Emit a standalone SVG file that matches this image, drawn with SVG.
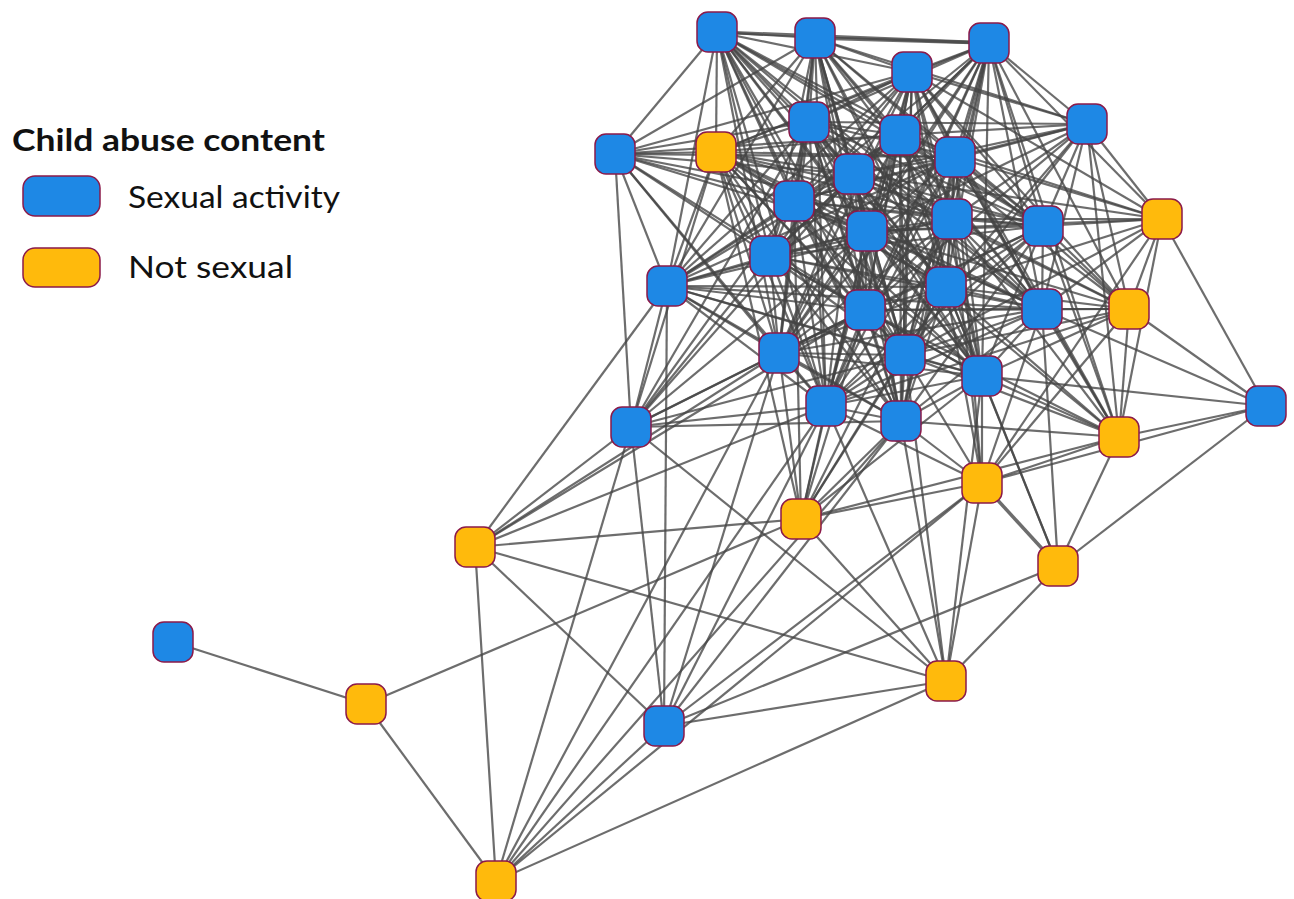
<svg xmlns="http://www.w3.org/2000/svg" width="1294" height="899" viewBox="0 0 1294 899">
<style>
.b{fill:#1E88E5;stroke:#8B1A4A;stroke-width:1.5}
.o{fill:#FFBA0C;stroke:#8B1A4A;stroke-width:1.5}
#edges path{fill:none;stroke:#444;stroke-opacity:0.78;stroke-width:2.2}
#edges path.t{stroke-width:3.5}
.lt{font-family:Lato,"Open Sans","Liberation Sans",sans-serif;fill:#111}
</style>
<rect width="1294" height="899" fill="#fff"/>
<g id="legend">
<text class="lt" x="12" y="151" font-size="30" font-weight="700" textLength="313" lengthAdjust="spacingAndGlyphs">Child abuse content</text>
<rect class="b" x="23" y="176" width="77" height="40" rx="12"/>
<text class="lt" x="128" y="208" font-size="31" textLength="212" lengthAdjust="spacingAndGlyphs">Sexual activity</text>
<rect class="o" x="23" y="248" width="77" height="39" rx="12"/>
<text class="lt" x="128" y="278" font-size="31" textLength="165" lengthAdjust="spacingAndGlyphs">Not sexual</text>
</g>
<g id="edges">
<path d="M717 32 815 38"/><path class="t" d="M717 32 989 43"/><path d="M717 32 912 72"/><path d="M717 32 809 122"/><path d="M717 32 900 135"/><path d="M717 32 716 152"/><path d="M717 32 955 157"/><path d="M717 32 854 174"/><path d="M717 32 794 201"/><path d="M717 32 952 219"/><path d="M717 32 867 231"/><path d="M717 32 770 256"/><path d="M717 32 946 287"/><path d="M717 32 865 310"/><path d="M717 32 779 353"/><path d="M717 32 905 355"/><path d="M717 32 982 376"/><path d="M717 32 826 406"/><path d="M717 32 901 421"/>
<path class="t" d="M815 38 989 43"/><path d="M815 38 912 72"/><path d="M815 38 809 122"/><path d="M815 38 900 135"/><path d="M815 38 716 152"/><path d="M815 38 955 157"/><path d="M815 38 854 174"/><path d="M815 38 794 201"/><path d="M815 38 952 219"/><path d="M815 38 867 231"/><path d="M815 38 770 256"/><path d="M815 38 946 287"/><path d="M815 38 865 310"/><path d="M815 38 779 353"/><path d="M815 38 905 355"/><path d="M815 38 982 376"/><path d="M815 38 826 406"/><path d="M815 38 901 421"/>
<path d="M989 43 912 72"/><path d="M989 43 809 122"/><path d="M989 43 900 135"/><path d="M989 43 716 152"/><path d="M989 43 955 157"/><path d="M989 43 854 174"/><path d="M989 43 794 201"/><path d="M989 43 952 219"/><path d="M989 43 867 231"/><path d="M989 43 770 256"/><path d="M989 43 946 287"/><path d="M989 43 865 310"/><path d="M989 43 779 353"/><path d="M989 43 905 355"/><path d="M989 43 982 376"/><path d="M989 43 826 406"/><path d="M989 43 901 421"/>
<path d="M912 72 809 122"/><path d="M912 72 900 135"/><path d="M912 72 716 152"/><path d="M912 72 955 157"/><path d="M912 72 854 174"/><path d="M912 72 794 201"/><path d="M912 72 952 219"/><path d="M912 72 867 231"/><path d="M912 72 770 256"/><path d="M912 72 946 287"/><path d="M912 72 865 310"/><path d="M912 72 779 353"/><path d="M912 72 905 355"/><path d="M912 72 982 376"/><path d="M912 72 826 406"/><path d="M912 72 901 421"/>
<path d="M809 122 900 135"/><path d="M809 122 716 152"/><path d="M809 122 955 157"/><path d="M809 122 854 174"/><path d="M809 122 794 201"/><path d="M809 122 952 219"/><path d="M809 122 867 231"/><path d="M809 122 770 256"/><path d="M809 122 946 287"/><path d="M809 122 865 310"/><path d="M809 122 779 353"/><path d="M809 122 905 355"/><path d="M809 122 982 376"/><path d="M809 122 826 406"/><path d="M809 122 901 421"/>
<path d="M900 135 716 152"/><path d="M900 135 955 157"/><path d="M900 135 854 174"/><path d="M900 135 794 201"/><path d="M900 135 952 219"/><path d="M900 135 867 231"/><path d="M900 135 770 256"/><path d="M900 135 946 287"/><path d="M900 135 865 310"/><path d="M900 135 779 353"/><path d="M900 135 905 355"/><path d="M900 135 982 376"/><path d="M900 135 826 406"/><path d="M900 135 901 421"/>
<path d="M716 152 955 157"/><path d="M716 152 854 174"/><path d="M716 152 794 201"/><path d="M716 152 952 219"/><path d="M716 152 867 231"/><path d="M716 152 770 256"/><path d="M716 152 946 287"/><path d="M716 152 865 310"/><path d="M716 152 779 353"/><path d="M716 152 905 355"/><path d="M716 152 982 376"/><path d="M716 152 826 406"/><path d="M716 152 901 421"/>
<path d="M955 157 854 174"/><path d="M955 157 794 201"/><path d="M955 157 952 219"/><path d="M955 157 867 231"/><path d="M955 157 770 256"/><path d="M955 157 946 287"/><path d="M955 157 865 310"/><path d="M955 157 779 353"/><path d="M955 157 905 355"/><path d="M955 157 982 376"/><path d="M955 157 826 406"/><path d="M955 157 901 421"/>
<path d="M854 174 794 201"/><path d="M854 174 952 219"/><path d="M854 174 867 231"/><path d="M854 174 770 256"/><path d="M854 174 946 287"/><path d="M854 174 865 310"/><path d="M854 174 779 353"/><path d="M854 174 905 355"/><path d="M854 174 982 376"/><path d="M854 174 826 406"/><path d="M854 174 901 421"/>
<path d="M794 201 952 219"/><path d="M794 201 867 231"/><path d="M794 201 770 256"/><path d="M794 201 946 287"/><path d="M794 201 865 310"/><path d="M794 201 779 353"/><path d="M794 201 905 355"/><path d="M794 201 982 376"/><path d="M794 201 826 406"/><path d="M794 201 901 421"/>
<path d="M952 219 867 231"/><path d="M952 219 770 256"/><path d="M952 219 946 287"/><path d="M952 219 865 310"/><path d="M952 219 779 353"/><path d="M952 219 905 355"/><path d="M952 219 982 376"/><path d="M952 219 826 406"/><path d="M952 219 901 421"/>
<path d="M867 231 770 256"/><path d="M867 231 946 287"/><path d="M867 231 865 310"/><path d="M867 231 779 353"/><path d="M867 231 905 355"/><path d="M867 231 982 376"/><path d="M867 231 826 406"/><path d="M867 231 901 421"/>
<path d="M770 256 946 287"/><path d="M770 256 865 310"/><path d="M770 256 779 353"/><path d="M770 256 905 355"/><path d="M770 256 982 376"/><path d="M770 256 826 406"/><path d="M770 256 901 421"/>
<path d="M946 287 865 310"/><path d="M946 287 779 353"/><path d="M946 287 905 355"/><path d="M946 287 982 376"/><path d="M946 287 826 406"/><path d="M946 287 901 421"/>
<path d="M865 310 779 353"/><path d="M865 310 905 355"/><path d="M865 310 982 376"/><path d="M865 310 826 406"/><path d="M865 310 901 421"/>
<path d="M779 353 905 355"/><path d="M779 353 982 376"/><path d="M779 353 826 406"/><path d="M779 353 901 421"/>
<path d="M905 355 982 376"/><path d="M905 355 826 406"/><path d="M905 355 901 421"/>
<path d="M982 376 826 406"/><path d="M982 376 901 421"/>
<path d="M826 406 901 421"/>
<path d="M717 32 615 154"/><path d="M717 32 667 286"/><path d="M717 32 1043 226"/><path d="M717 32 1042 309"/>
<path d="M815 38 1087 124"/><path d="M815 38 615 154"/><path d="M815 38 1043 226"/><path d="M815 38 667 286"/><path d="M815 38 1042 309"/>
<path d="M989 43 1087 124"/><path d="M989 43 1043 226"/><path d="M989 43 1162 219"/><path d="M989 43 1042 309"/><path d="M989 43 1129 309"/><path d="M989 43 1119 437"/>
<path d="M912 72 1087 124"/><path d="M912 72 615 154"/><path d="M912 72 1043 226"/><path d="M912 72 1162 219"/><path d="M912 72 667 286"/><path d="M912 72 1042 309"/><path d="M912 72 1129 309"/><path d="M912 72 1119 437"/>
<path d="M1087 124 809 122"/><path d="M1087 124 900 135"/><path d="M1087 124 955 157"/><path d="M1087 124 854 174"/><path d="M1087 124 952 219"/><path d="M1087 124 1043 226"/><path d="M1087 124 1162 219"/><path d="M1087 124 867 231"/><path d="M1087 124 946 287"/><path d="M1087 124 865 310"/><path d="M1087 124 1042 309"/><path d="M1087 124 1129 309"/><path d="M1087 124 905 355"/><path d="M1087 124 1119 437"/><path d="M1087 124 794 201"/>
<path d="M809 122 615 154"/><path d="M809 122 1043 226"/><path d="M809 122 667 286"/><path d="M809 122 1042 309"/><path d="M809 122 631 427"/>
<path d="M900 135 615 154"/><path d="M900 135 1043 226"/><path d="M900 135 1162 219"/><path d="M900 135 667 286"/><path d="M900 135 1042 309"/><path d="M900 135 1129 309"/>
<path d="M615 154 716 152"/><path d="M615 154 955 157"/><path d="M615 154 854 174"/><path d="M615 154 794 201"/><path d="M615 154 867 231"/><path d="M615 154 770 256"/><path d="M615 154 667 286"/><path d="M615 154 865 310"/><path d="M615 154 779 353"/><path d="M615 154 631 427"/><path d="M615 154 826 406"/><path d="M615 154 952 219"/>
<path d="M716 152 1043 226"/><path d="M716 152 667 286"/><path d="M716 152 1042 309"/><path d="M716 152 631 427"/><path d="M716 152 801 519"/>
<path d="M955 157 1043 226"/><path d="M955 157 1162 219"/><path d="M955 157 667 286"/><path d="M955 157 1042 309"/><path d="M955 157 1129 309"/><path d="M955 157 1119 437"/><path d="M955 157 982 483"/>
<path d="M854 174 1043 226"/><path d="M854 174 1162 219"/><path d="M854 174 667 286"/><path d="M854 174 1042 309"/><path d="M854 174 1129 309"/><path d="M854 174 631 427"/>
<path d="M794 201 1043 226"/><path d="M794 201 667 286"/><path d="M794 201 1042 309"/><path d="M794 201 631 427"/><path d="M794 201 801 519"/>
<path d="M952 219 1043 226"/><path d="M952 219 1162 219"/><path d="M952 219 667 286"/><path d="M952 219 1042 309"/><path d="M952 219 1129 309"/><path d="M952 219 1119 437"/><path d="M952 219 982 483"/><path d="M952 219 801 519"/>
<path d="M1043 226 1162 219"/><path d="M1043 226 867 231"/><path d="M1043 226 770 256"/><path d="M1043 226 946 287"/><path d="M1043 226 865 310"/><path d="M1043 226 1042 309"/><path d="M1043 226 1129 309"/><path d="M1043 226 779 353"/><path d="M1043 226 905 355"/><path d="M1043 226 982 376"/><path d="M1043 226 826 406"/><path d="M1043 226 901 421"/><path d="M1043 226 1119 437"/>
<path d="M1162 219 867 231"/><path d="M1162 219 946 287"/><path d="M1162 219 1042 309"/><path d="M1162 219 1129 309"/><path d="M1162 219 905 355"/><path d="M1162 219 1266 406"/><path d="M1162 219 1119 437"/><path d="M1162 219 982 483"/>
<path d="M867 231 667 286"/><path d="M867 231 1042 309"/><path d="M867 231 1129 309"/><path d="M867 231 631 427"/><path d="M867 231 1119 437"/><path d="M867 231 801 519"/>
<path d="M770 256 667 286"/><path d="M770 256 1042 309"/><path d="M770 256 631 427"/>
<path d="M667 286 946 287"/><path d="M667 286 865 310"/><path d="M667 286 779 353"/><path d="M667 286 905 355"/><path d="M667 286 826 406"/><path d="M667 286 901 421"/><path d="M667 286 631 427"/><path d="M667 286 475 547"/><path d="M667 286 664 726"/><path d="M667 286 982 376"/><path d="M667 286 1042 309"/>
<path d="M946 287 1042 309"/><path d="M946 287 1129 309"/><path d="M946 287 1119 437"/><path d="M946 287 982 483"/><path d="M946 287 801 519"/><path d="M946 287 1058 566"/>
<path d="M865 310 1042 309"/><path d="M865 310 1129 309"/><path d="M865 310 631 427"/><path d="M865 310 1119 437"/><path d="M865 310 801 519"/><path d="M865 310 475 547"/>
<path d="M1042 309 1129 309"/><path d="M1042 309 779 353"/><path d="M1042 309 905 355"/><path d="M1042 309 982 376"/><path d="M1042 309 826 406"/><path d="M1042 309 901 421"/><path d="M1042 309 1266 406"/><path d="M1042 309 1119 437"/><path d="M1042 309 982 483"/><path d="M1042 309 1058 566"/>
<path d="M1129 309 905 355"/><path d="M1129 309 982 376"/><path d="M1129 309 826 406"/><path d="M1129 309 1266 406"/><path d="M1129 309 1119 437"/><path d="M1129 309 982 483"/>
<path d="M779 353 631 427"/><path d="M779 353 801 519"/><path d="M779 353 475 547"/><path d="M779 353 664 726"/><path d="M779 353 496 881"/>
<path d="M905 355 631 427"/><path d="M905 355 1119 437"/><path d="M905 355 982 483"/><path d="M905 355 801 519"/><path d="M905 355 946 681"/>
<path d="M982 376 1266 406"/><path d="M982 376 1119 437"/><path d="M982 376 982 483"/><path d="M982 376 801 519"/><path d="M982 376 1058 566"/><path d="M982 376 946 681"/>
<path d="M826 406 631 427"/><path d="M826 406 801 519"/><path d="M826 406 475 547"/><path d="M826 406 946 681"/><path d="M826 406 664 726"/><path d="M826 406 496 881"/><path d="M826 406 982 483"/>
<path d="M901 421 631 427"/><path d="M901 421 1119 437"/><path d="M901 421 982 483"/><path d="M901 421 801 519"/><path d="M901 421 946 681"/><path d="M901 421 664 726"/><path d="M901 421 496 881"/>
<path d="M631 427 475 547"/><path d="M631 427 946 681"/><path d="M631 427 664 726"/><path d="M631 427 496 881"/>
<path d="M1266 406 1119 437"/><path d="M1266 406 982 483"/><path d="M1266 406 1058 566"/>
<path d="M1119 437 982 483"/><path d="M1119 437 801 519"/><path d="M1119 437 1058 566"/>
<path d="M982 483 801 519"/><path class="t" d="M982 483 1058 566"/><path d="M982 483 946 681"/><path d="M982 483 664 726"/><path d="M982 483 496 881"/>
<path d="M801 519 475 547"/><path d="M801 519 946 681"/><path d="M801 519 366 704"/>
<path d="M475 547 946 681"/><path d="M475 547 664 726"/><path d="M475 547 496 881"/>
<path d="M1058 566 946 681"/><path d="M1058 566 664 726"/>
<path d="M173 642 366 704"/>
<path d="M946 681 664 726"/><path d="M946 681 496 881"/>
<path d="M366 704 496 881"/>
<path d="M664 726 496 881"/>
</g>
<g id="n1"><rect class="b" x="697" y="12" width="40" height="40" rx="11"/></g>
<g id="n2"><rect class="b" x="795" y="18" width="40" height="40" rx="11"/></g>
<g id="n3"><rect class="b" x="969" y="23" width="40" height="40" rx="11"/></g>
<g id="n4"><rect class="b" x="892" y="52" width="40" height="40" rx="11"/></g>
<g id="n5"><rect class="b" x="1067" y="104" width="40" height="40" rx="11"/></g>
<g id="n6"><rect class="b" x="789" y="102" width="40" height="40" rx="11"/></g>
<g id="n7"><rect class="b" x="880" y="115" width="40" height="40" rx="11"/></g>
<g id="n8"><rect class="b" x="595" y="134" width="40" height="40" rx="11"/></g>
<g id="n9"><rect class="o" x="696" y="132" width="40" height="40" rx="11"/></g>
<g id="n10"><rect class="b" x="935" y="137" width="40" height="40" rx="11"/></g>
<g id="n11"><rect class="b" x="834" y="154" width="40" height="40" rx="11"/></g>
<g id="n12"><rect class="b" x="774" y="181" width="40" height="40" rx="11"/></g>
<g id="n13"><rect class="b" x="932" y="199" width="40" height="40" rx="11"/></g>
<g id="n14"><rect class="b" x="1023" y="206" width="40" height="40" rx="11"/></g>
<g id="n15"><rect class="o" x="1142" y="199" width="40" height="40" rx="11"/></g>
<g id="n16"><rect class="b" x="847" y="211" width="40" height="40" rx="11"/></g>
<g id="n17"><rect class="b" x="750" y="236" width="40" height="40" rx="11"/></g>
<g id="n18"><rect class="b" x="647" y="266" width="40" height="40" rx="11"/></g>
<g id="n19"><rect class="b" x="926" y="267" width="40" height="40" rx="11"/></g>
<g id="n20"><rect class="b" x="845" y="290" width="40" height="40" rx="11"/></g>
<g id="n21"><rect class="b" x="1022" y="289" width="40" height="40" rx="11"/></g>
<g id="n22"><rect class="o" x="1109" y="289" width="40" height="40" rx="11"/></g>
<g id="n23"><rect class="b" x="759" y="333" width="40" height="40" rx="11"/></g>
<g id="n24"><rect class="b" x="885" y="335" width="40" height="40" rx="11"/></g>
<g id="n25"><rect class="b" x="962" y="356" width="40" height="40" rx="11"/></g>
<g id="n26"><rect class="b" x="806" y="386" width="40" height="40" rx="11"/></g>
<g id="n27"><rect class="b" x="881" y="401" width="40" height="40" rx="11"/></g>
<g id="n28"><rect class="b" x="611" y="407" width="40" height="40" rx="11"/></g>
<g id="n29"><rect class="b" x="1246" y="386" width="40" height="40" rx="11"/></g>
<g id="n30"><rect class="o" x="1099" y="417" width="40" height="40" rx="11"/></g>
<g id="n31"><rect class="o" x="962" y="463" width="40" height="40" rx="11"/></g>
<g id="n32"><rect class="o" x="781" y="499" width="40" height="40" rx="11"/></g>
<g id="n33"><rect class="o" x="455" y="527" width="40" height="40" rx="11"/></g>
<g id="n34"><rect class="o" x="1038" y="546" width="40" height="40" rx="11"/></g>
<g id="n35"><rect class="b" x="153" y="622" width="40" height="40" rx="11"/></g>
<g id="n36"><rect class="o" x="926" y="661" width="40" height="40" rx="11"/></g>
<g id="n37"><rect class="o" x="346" y="684" width="40" height="40" rx="11"/></g>
<g id="n38"><rect class="b" x="644" y="706" width="40" height="40" rx="11"/></g>
<g id="n39"><rect class="o" x="476" y="861" width="40" height="40" rx="11"/></g>
</svg>
